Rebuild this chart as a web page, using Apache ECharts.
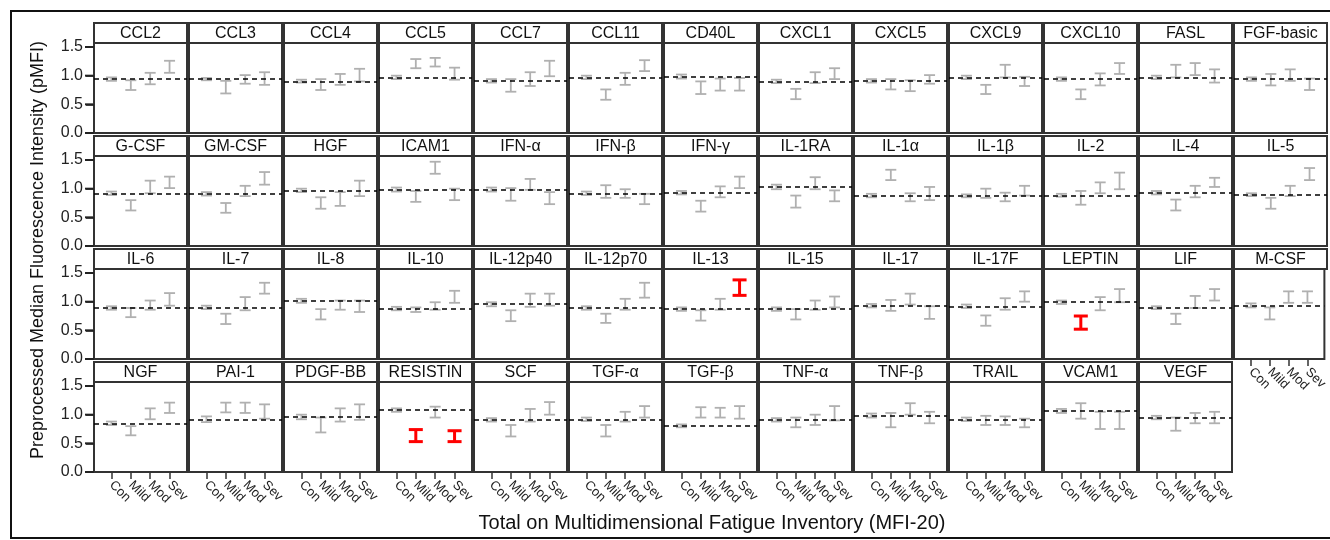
<!DOCTYPE html>
<html><head><meta charset="utf-8">
<script src="https://cdn.jsdelivr.net/npm/echarts@6/dist/echarts.min.js"></script>
<style>html,body{margin:0;padding:0;background:#fff}#c{width:1330px;height:540px}</style>
</head><body><div id="c"></div>
<script>
const names = [
 'CCL2','CCL3','CCL4','CCL5','CCL7','CCL11','CD40L','CXCL1','CXCL5','CXCL9','CXCL10','FASL','FGF-basic',
 'G-CSF','GM-CSF','HGF','ICAM1','IFN-α','IFN-β','IFN-γ','IL-1RA','IL-1α','IL-1β','IL-2','IL-4','IL-5',
 'IL-6','IL-7','IL-8','IL-10','IL-12p40','IL-12p70','IL-13','IL-15','IL-17','IL-17F','LEPTIN','LIF','M-CSF',
 'NGF','PAI-1','PDGF-BB','RESISTIN','SCF','TGF-α','TGF-β','TNF-α','TNF-β','TRAIL','VCAM1','VEGF'
];
const groups = ['Con','Mild','Mod','Sev'];
const yTicks = [0, 0.5, 1.0, 1.5];
// dashed reference line (Con mean)
const ref = [
 0.94,0.94,0.90,0.97,0.91,0.97,0.98,0.90,0.91,0.97,0.94,0.97,0.94,
 0.92,0.91,0.97,0.98,0.98,0.92,0.93,1.03,0.88,0.87,0.88,0.93,0.89,
 0.89,0.90,1.02,0.88,0.96,0.89,0.87,0.87,0.93,0.92,0.99,0.90,0.93,
 0.85,0.92,0.96,1.08,0.91,0.92,0.80,0.91,0.98,0.92,1.06,0.95
];
const con = [
 [0.91,0.97],[0.92,0.96],[0.88,0.93],[0.94,1.00],[0.88,0.94],[0.94,1.00],[0.95,1.02],[0.87,0.93],[0.88,0.94],[0.94,1.00],[0.91,0.97],[0.94,1.00],[0.91,0.97],
 [0.89,0.95],[0.88,0.94],[0.94,1.00],[0.95,1.02],[0.95,1.02],[0.89,0.95],[0.90,0.96],[0.99,1.07],[0.85,0.91],[0.85,0.90],[0.86,0.91],[0.90,0.96],[0.87,0.92],
 [0.86,0.92],[0.87,0.93],[0.98,1.05],[0.85,0.91],[0.92,0.99],[0.86,0.92],[0.84,0.90],[0.84,0.90],[0.90,0.96],[0.89,0.95],[0.96,1.02],[0.87,0.92],[0.90,0.97],
 [0.82,0.88],[0.87,0.97],[0.92,1.00],[1.05,1.11],[0.88,0.94],[0.89,0.95],[0.78,0.83],[0.88,0.94],[0.95,1.02],[0.89,0.95],[1.03,1.10],[0.92,0.98]
];
const mild = [
 [0.75,0.92],[0.69,0.91],[0.75,0.94],[1.13,1.29],[0.72,0.94],[0.58,0.76],[0.68,0.90],[0.59,0.77],[0.76,0.94],[0.68,0.84],[0.59,0.76],[0.97,1.19],[0.83,1.03],
 [0.62,0.80],[0.58,0.75],[0.65,0.85],[0.77,0.96],[0.79,1.01],[0.84,1.06],[0.60,0.79],[0.67,0.88],[1.15,1.33],[0.84,1.00],[0.72,0.96],[0.62,0.81],[0.65,0.84],
 [0.73,0.89],[0.61,0.79],[0.69,0.87],[0.82,0.90],[0.66,0.85],[0.63,0.79],[0.67,0.85],[0.69,0.87],[0.84,1.03],[0.58,0.76],[0.52,0.75],[0.61,0.79],[0.69,0.90],
 [0.64,0.80],[1.04,1.21],[0.69,0.95],[0.53,0.74],[0.62,0.82],[0.62,0.82],[0.95,1.13],[0.78,0.95],[0.78,1.03],[0.82,0.98],[0.93,1.20],[0.72,0.95]
];
const mod = [
 [0.85,1.05],[0.86,1.01],[0.84,1.03],[1.16,1.31],[0.82,1.06],[0.84,1.05],[0.74,0.95],[0.87,1.06],[0.73,0.92],[0.97,1.19],[0.83,1.04],[1.01,1.22],[0.91,1.11],
 [0.92,1.14],[0.87,1.05],[0.70,0.94],[1.26,1.47],[0.98,1.17],[0.84,0.99],[0.85,1.04],[0.99,1.20],[0.78,0.92],[0.78,0.93],[0.92,1.11],[0.85,1.05],[0.87,1.05],
 [0.86,1.02],[0.85,1.08],[0.86,1.02],[0.86,0.99],[0.91,1.14],[0.86,1.05],[0.86,1.05],[0.86,1.02],[0.95,1.14],[0.86,1.06],[0.85,1.08],[0.89,1.10],[0.98,1.18],
 [0.92,1.11],[1.03,1.21],[0.88,1.11],[0.95,1.14],[0.88,1.10],[0.88,1.05],[0.95,1.12],[0.82,1.00],[1.00,1.20],[0.82,0.97],[0.75,1.05],[0.85,1.03]
];
const sev = [
 [1.05,1.26],[0.84,1.06],[0.90,1.12],[0.93,1.14],[0.99,1.26],[1.08,1.27],[0.74,0.96],[0.94,1.13],[0.86,1.01],[0.82,0.98],[1.03,1.22],[0.88,1.11],[0.75,0.95],
 [1.01,1.21],[1.07,1.29],[0.87,1.14],[0.80,1.00],[0.73,0.94],[0.73,0.91],[1.01,1.21],[0.78,0.97],[0.80,1.03],[0.88,1.05],[0.99,1.28],[1.03,1.19],[1.15,1.36],
 [0.93,1.15],[1.14,1.33],[0.82,1.02],[0.98,1.19],[0.93,1.14],[1.07,1.33],[1.11,1.38],[0.90,1.09],[0.70,0.92],[1.00,1.18],[0.99,1.22],[1.02,1.22],[0.98,1.18],
 [1.03,1.21],[0.93,1.18],[0.91,1.18],[0.53,0.72],[1.00,1.22],[0.95,1.15],[0.93,1.15],[0.90,1.15],[0.85,1.05],[0.78,0.93],[0.75,1.05],[0.85,1.05]
];
// significant (red) bars: [panel name, group index]
const highlighted = [['IL-13',3],['LEPTIN',1],['RESISTIN',1],['RESISTIN',3]];

const FONT = 'Liberation Sans, Arial, Helvetica, sans-serif';
const NCOL = 13, L0 = 94, T0 = 43, PW = 93, PH = 90, DX = 95, DY = 113, STRIP = 20;
const XMIN = -0.9, XMAX = 3.9, YMAX = 1.57;
const BORDER = '#333';

const grids = [], xAxes = [], yAxes = [], series = [], graphics = [];
names.forEach((nm, i) => {
  const r = Math.floor(i / NCOL), c = i % NCOL;
  const left = L0 + DX * c, top = T0 + DY * r;
  const showX = (r === 3) || (r === 2 && c === NCOL - 1);
  const showY = c === 0;
  grids.push({left, top, width: PW, height: PH, show: true, borderColor: BORDER, borderWidth: 2, backgroundColor: '#fff'});
  xAxes.push({gridIndex: i, type: 'value', min: XMIN, max: XMAX, position: 'bottom',
    axisLine: {show: false, onZero: false}, splitLine: {show: false},
    axisTick: {show: showX, customValues: [0,1,2,3], length: 7, lineStyle: {color: BORDER, width: 1.5}},
    axisLabel: {show: showX, customValues: [0,1,2,3], rotate: -45, margin: 11,
      formatter: v => groups[Math.round(v)], fontSize: 13, color: '#222', fontFamily: FONT}});
  yAxes.push({gridIndex: i, type: 'value', min: 0, max: YMAX, position: 'left',
    axisLine: {show: false, onZero: false}, splitLine: {show: false},
    axisTick: {show: showY, inside: false, customValues: yTicks, length: 8, lineStyle: {color: '#222', width: 1.6}},
    axisLabel: {show: showY, customValues: yTicks, formatter: v => v.toFixed(1), fontSize: 16, margin: 11, color: '#222', fontFamily: FONT}});
  const bars = [con[i], mild[i], mod[i], sev[i]].map((p, g) => {
    const red = highlighted.some(h => h[0] === nm && h[1] === g) ? 1 : 0;
    return [g, p[0], p[1], red];
  });
  series.push({type: 'custom', xAxisIndex: i, yAxisIndex: i, data: bars, z: 3,
    encode: {x: 0, y: [1, 2]},
    renderItem: (params, api) => {
      const x = api.value(0), lo = api.value(1), hi = api.value(2), red = api.value(3);
      const p1 = api.coord([x, hi]), p2 = api.coord([x, lo]);
      const w = red ? 7 : 5.5;
      const style = {stroke: red ? '#ff0000' : '#b0b0b0', lineWidth: red ? 3 : 1.8, fill: null};
      return {type: 'group', children: [
        {type: 'line', shape: {x1: p1[0], y1: p1[1], x2: p2[0], y2: p2[1]}, style},
        {type: 'line', shape: {x1: p1[0] - w, y1: p1[1], x2: p1[0] + w, y2: p1[1]}, style},
        {type: 'line', shape: {x1: p2[0] - w, y1: p2[1], x2: p2[0] + w, y2: p2[1]}, style}
      ]};
    },
    markLine: {silent: true, symbol: 'none', animation: false, z: 4,
      label: {show: false},
      lineStyle: {color: '#000', type: [5, 4], width: 1.5},
      data: [{yAxis: ref[i]}]}
  });
  graphics.push({type: 'rect', shape: {x: left, y: top - STRIP, width: PW, height: STRIP},
    style: {fill: '#fff', stroke: BORDER, lineWidth: 2}, z: 10});
  graphics.push({type: 'text', x: left + PW / 2, y: top - STRIP / 2 + 1,
    style: {text: nm, fill: '#111', font: '16px ' + FONT, textAlign: 'center', textVerticalAlign: 'middle'}, z: 11});
});
graphics.push({type: 'rect', shape: {x: 11, y: 11, width: 1330, height: 527},
  style: {fill: 'none', stroke: '#111', lineWidth: 2}, z: 1});
graphics.push({type: 'text', x: 712, y: 523,
  style: {text: 'Total on Multidimensional Fatigue Inventory (MFI-20)', fill: '#111', font: '20px ' + FONT, textAlign: 'center', textVerticalAlign: 'middle'}, z: 11});
graphics.push({type: 'text', x: 38, y: 250, rotation: Math.PI / 2,
  style: {text: 'Preprocessed Median Fluorescence Intensity (pMFI)', fill: '#111', font: '18px ' + FONT, textAlign: 'center', textVerticalAlign: 'middle'}, z: 11});

const chart = echarts.init(document.getElementById('c'), null, {renderer: 'canvas'});
chart.setOption({animation: false, grid: grids, xAxis: xAxes, yAxis: yAxes, series, graphic: graphics});

// y-axis tick marks for the first column, placed through each panel's own scales
const tickGraphics = [];
names.forEach((nm, i) => {
  if (i % NCOL !== 0) return;
  yTicks.forEach(v => {
    const pt = chart.convertToPixel({gridIndex: i}, [XMIN, v]);
    if (pt) tickGraphics.push({type: 'line', shape: {x1: pt[0] - 9, y1: pt[1], x2: pt[0] - 1, y2: pt[1]},
      style: {stroke: '#222', lineWidth: 2}, z: 50});
  });
});
chart.setOption({graphic: graphics.concat(tickGraphics)});
</script></body></html>
